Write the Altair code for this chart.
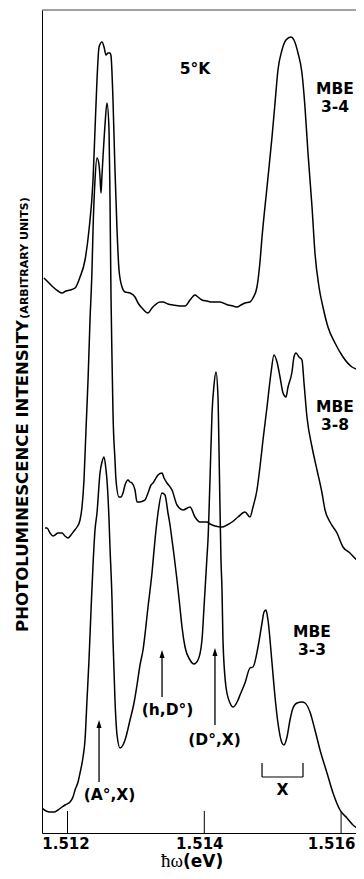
import altair as alt
import pandas as pd

FONT = "DejaVu Sans"

# ---- spectra (photon energy in eV, intensity in arbitrary units) ----
ev_34 = [1.511656, 1.511715, 1.511788, 1.511861, 1.511920, 1.511978, 1.512037, 1.512110,
         1.512183, 1.512256, 1.512314, 1.512373, 1.512402, 1.512431, 1.512461, 1.512504,
         1.512534, 1.512563, 1.512592, 1.512621, 1.512636, 1.512665, 1.512694, 1.512724,
         1.512753, 1.512797, 1.512841, 1.512914, 1.512987, 1.513031, 1.513089, 1.513177,
         1.513235, 1.513279, 1.513352, 1.513396, 1.513469, 1.513542, 1.513645, 1.513718,
         1.513791, 1.513864, 1.513908, 1.513966, 1.514039, 1.514113, 1.514230, 1.514346,
         1.514420, 1.514478, 1.514537, 1.514595, 1.514668, 1.514712, 1.514770, 1.514814,
         1.514844, 1.514917, 1.514990, 1.515034, 1.515077, 1.515136, 1.515194, 1.515268,
         1.515311, 1.515370, 1.515428, 1.515472, 1.515516, 1.515575, 1.515618, 1.515677,
         1.515735, 1.515808, 1.515911, 1.516028, 1.516159, 1.516247, 1.516335]
int_34 = [555, 551, 546, 542, 540, 542, 543, 545,
          556, 573, 603, 653, 703, 753, 786, 791,
          786, 778, 780, 780, 777, 733, 663, 603,
          563, 546, 541, 540, 536, 530, 525, 520,
          525, 528, 531, 531, 529, 528, 527, 527,
          533, 538, 536, 533, 532, 531, 531, 528,
          527, 526, 528, 530, 531, 535, 546, 571,
          596, 646, 696, 730, 763, 783, 793, 796,
          793, 780, 760, 726, 680, 626, 580, 546,
          526, 506, 490, 476, 466, 463, 458]

ev_38 = [1.511671, 1.511700, 1.511744, 1.511788, 1.511817, 1.511861, 1.511920, 1.511963,
         1.512007, 1.512051, 1.512095, 1.512139, 1.512183, 1.512212, 1.512241, 1.512270,
         1.512300, 1.512329, 1.512358, 1.512373, 1.512402, 1.512431, 1.512461, 1.512475,
         1.512490, 1.512504, 1.512519, 1.512548, 1.512577, 1.512607, 1.512621, 1.512636,
         1.512651, 1.512665, 1.512694, 1.512709, 1.512753, 1.512782, 1.512811, 1.512841,
         1.512885, 1.512914, 1.512943, 1.512987, 1.513016, 1.513060, 1.513104, 1.513133,
         1.513177, 1.513221, 1.513250, 1.513323, 1.513382, 1.513411, 1.513455, 1.513528,
         1.513601, 1.513689, 1.513791, 1.513864, 1.513937, 1.514039, 1.514083, 1.514156,
         1.514259, 1.514332, 1.514405, 1.514493, 1.514595, 1.514668, 1.514712, 1.514770,
         1.514814, 1.514858, 1.514917, 1.514975, 1.515019, 1.515063, 1.515107, 1.515151,
         1.515194, 1.515224, 1.515282, 1.515311, 1.515341, 1.515385, 1.515428, 1.515458,
         1.515501, 1.515575, 1.515648, 1.515721, 1.515765, 1.515838, 1.515940, 1.516028,
         1.516130, 1.516232, 1.516320]
int_38 = [305, 305, 300, 297, 298, 300, 300, 297,
          295, 298, 302, 306, 313, 326, 353, 403,
          453, 513, 563, 603, 653, 675, 668, 656,
          640, 658, 676, 708, 730, 703, 636, 536,
          473, 420, 373, 353, 336, 336, 340, 348,
          353, 351, 350, 343, 331, 331, 332, 333,
          340, 348, 350, 358, 360, 355, 350, 343,
          328, 323, 326, 316, 311, 311, 309, 307,
          306, 308, 311, 316, 321, 316, 326, 343,
          366, 393, 426, 460, 478, 471, 456, 440,
          436, 446, 461, 476, 480, 476, 473, 450,
          416, 386, 363, 340, 323, 311, 300, 286,
          280, 273, 270]

ev_33 = [1.511627, 1.511686, 1.511744, 1.511803, 1.511861, 1.511920, 1.511963, 1.512037,
         1.512080, 1.512110, 1.512154, 1.512183, 1.512227, 1.512256, 1.512285, 1.512314,
         1.512344, 1.512373, 1.512402, 1.512431, 1.512475, 1.512504, 1.512534, 1.512563,
         1.512577, 1.512607, 1.512621, 1.512651, 1.512665, 1.512694, 1.512724, 1.512768,
         1.512811, 1.512841, 1.512914, 1.512972, 1.513016, 1.513060, 1.513104, 1.513177,
         1.513235, 1.513279, 1.513323, 1.513382, 1.513425, 1.513469, 1.513499, 1.513528,
         1.513557, 1.513601, 1.513645, 1.513674, 1.513718, 1.513791, 1.513849, 1.513908,
         1.513966, 1.513996, 1.514039, 1.514054, 1.514083, 1.514113, 1.514142, 1.514171,
         1.514200, 1.514215, 1.514230, 1.514244, 1.514259, 1.514273, 1.514317, 1.514376,
         1.514420, 1.514493, 1.514522, 1.514595, 1.514668, 1.514712, 1.514785, 1.514844,
         1.514873, 1.514902, 1.514931, 1.514990, 1.515034, 1.515077, 1.515136, 1.515165,
         1.515209, 1.515253, 1.515297, 1.515355, 1.515428, 1.515472, 1.515545, 1.515618,
         1.515692, 1.515794, 1.515882, 1.515984, 1.516086, 1.516174, 1.516232]
int_33 = [25, 22, 21, 21, 23, 26, 28, 31,
          36, 43, 51, 60, 76, 93, 133, 173,
          223, 268, 303, 320, 360, 371, 376, 363,
          353, 313, 286, 233, 193, 133, 98, 85,
          88, 93, 113, 130, 148, 168, 183, 226,
          260, 293, 320, 340, 338, 320, 308, 293,
          278, 253, 225, 206, 186, 173, 169, 173,
          193, 226, 276, 293, 353, 420, 448, 461,
          436, 383, 323, 273, 243, 193, 146, 130,
          126, 133, 138, 150, 165, 166, 186, 210,
          221, 223, 213, 170, 136, 110, 90, 88,
          96, 113, 125, 130, 131, 130, 121, 103,
          83, 60, 40, 23, 15, 8, 5]

# ---- axis ----
tick_values = [1.512, 1.514, 1.516]
tick_len = [22, 22, 22]
x_domain = [1.511627, 1.516218]
y_top = 823

# ---- annotations ----
label_text = ["5°K", "MBE\n3-4", "MBE\n3-8", "MBE\n3-3",
              "(A°,X)", "(h,D°)", "(D°,X)", "X"]
label_ev = [1.513864, 1.515911, 1.515911, 1.515575,
            1.512614, 1.513462, 1.514149, 1.515143]
label_int = [764, 744, 426, 201, 38, 123, 93, 43]

arrow_ev = [1.512461, 1.513382, 1.514156]
arrow_base = [51, 136, 108]
arrow_tip = [113, 183, 185]

bracket_ev = [1.514844, 1.515443]
bracket_low = 56
bracket_high = 70

W, H = 314, 823

rows = []
for name, evs, ints in [("MBE 3-4", ev_34, int_34), ("MBE 3-8", ev_38, int_38),
                        ("MBE 3-3", ev_33, int_33)]:
    for i, (e, v) in enumerate(zip(evs, ints)):
        rows.append({"ev": e, "intensity": v, "sample": name, "idx": i})
spectra = pd.DataFrame(rows)

x_enc = alt.X("ev:Q",
              scale=alt.Scale(domain=x_domain, nice=False, zero=False),
              axis=alt.Axis(values=tick_values, format=".3f", ticks=False, grid=False,
                            labelFont=FONT, labelFontWeight="bold", labelFontSize=15,
                            labelColor="black", labelPadding=3, domainColor="black",
                            domainWidth=1, title="",
                            labelOffset={"condition": [
                                {"test": "datum.value > 1.515", "value": -10},
                                {"test": "datum.value > 1.513", "value": -5}],
                                "value": -2}))
y_enc = alt.Y("intensity:Q",
              scale=alt.Scale(domain=[0, y_top], nice=False, zero=False),
              axis=alt.Axis(labels=False, ticks=False, grid=False, domainColor="black",
                            domainWidth=1, title=""))

lines = alt.Chart(spectra).mark_line(
    color="black", strokeWidth=1.5, clip=True, interpolate="monotone"
).encode(x=x_enc, y=y_enc, detail="sample:N", order="idx:Q")

ticks = alt.Chart(pd.DataFrame({"ev": tick_values, "intensity": [0, 0, 0],
                                "intensity2": tick_len})).mark_rule(
    color="black", strokeWidth=1
).encode(x="ev:Q", y="intensity:Q", y2="intensity2:Q")

top_border = alt.Chart(pd.DataFrame({"ev": [x_domain[0]], "ev2": [x_domain[1]],
                                     "intensity": [y_top]})).mark_rule(
    color="#444444", strokeWidth=1
).encode(x="ev:Q", x2="ev2:Q", y="intensity:Q")

labels = alt.Chart(pd.DataFrame({"ev": label_ev, "intensity": label_int,
                                 "text": label_text})).mark_text(
    font=FONT, fontWeight="bold", fontSize=15.5, color="black", align="center",
    baseline="middle", lineBreak="\n", lineHeight=18
).encode(x="ev:Q", y="intensity:Q", text="text:N")

arrow_df = pd.DataFrame({"ev": arrow_ev, "intensity": arrow_base,
                         "intensity2": [t - 7 for t in arrow_tip], "tip": arrow_tip})
arrow_shafts = alt.Chart(arrow_df).mark_rule(color="black", strokeWidth=1.3).encode(
    x="ev:Q", y="intensity:Q", y2="intensity2:Q")
arrow_heads = alt.Chart(arrow_df).mark_point(
    shape="M0,0L-0.32,1L0.32,1Z", size=256, filled=True, color="black", opacity=1
).encode(x="ev:Q", y=alt.Y("tip:Q"))

bracket_df = pd.DataFrame({
    "ev": [bracket_ev[0], bracket_ev[0], bracket_ev[1]],
    "ev2": [bracket_ev[1], bracket_ev[0], bracket_ev[1]],
    "intensity": [bracket_low, bracket_low, bracket_low],
    "intensity2": [bracket_low, bracket_high, bracket_high],
})
bracket = alt.Chart(bracket_df).mark_rule(color="black", strokeWidth=1.2).encode(
    x="ev:Q", x2="ev2:Q", y="intensity:Q", y2="intensity2:Q")

ytitle_main = alt.Chart(pd.DataFrame({"t": ["PHOTOLUMINESCENCE INTENSITY"]})).mark_text(
    font=FONT, fontWeight="bold", fontSize=16.5, angle=270, align="center",
    baseline="alphabetic", color="black"
).encode(x=alt.value(-14.5), y=alt.value(466), text="t:N")

ytitle_small = alt.Chart(pd.DataFrame({"t": ["(ARBITRARY UNITS)"]})).mark_text(
    font=FONT, fontWeight="bold", fontSize=11, angle=270, align="center",
    baseline="alphabetic", color="black"
).encode(x=alt.value(-14.5), y=alt.value(248), text="t:N")

xtitle_sym = alt.Chart(pd.DataFrame({"t": ["ħω"]})).mark_text(
    font="Liberation Serif", fontSize=19, align="right", baseline="alphabetic",
    color="black"
).encode(x=alt.value(141), y=alt.value(857), text="t:N")

xtitle_unit = alt.Chart(pd.DataFrame({"t": ["(eV)"]})).mark_text(
    font=FONT, fontWeight="bold", fontSize=17, align="left", baseline="alphabetic",
    color="black"
).encode(x=alt.value(141), y=alt.value(857), text="t:N")

chart = alt.layer(
    lines, ticks, top_border, labels, arrow_shafts, arrow_heads, bracket,
    ytitle_main, ytitle_small, xtitle_sym, xtitle_unit
).properties(
    width=W, height=H,
    autosize=alt.AutoSizeParams(type="none"),
    padding={"left": 34, "top": 2, "right": 0, "bottom": 37},
    background="white",
).configure_view(strokeWidth=0)

chart.save("out.html", embed_options={"renderer": "svg", "actions": False})
